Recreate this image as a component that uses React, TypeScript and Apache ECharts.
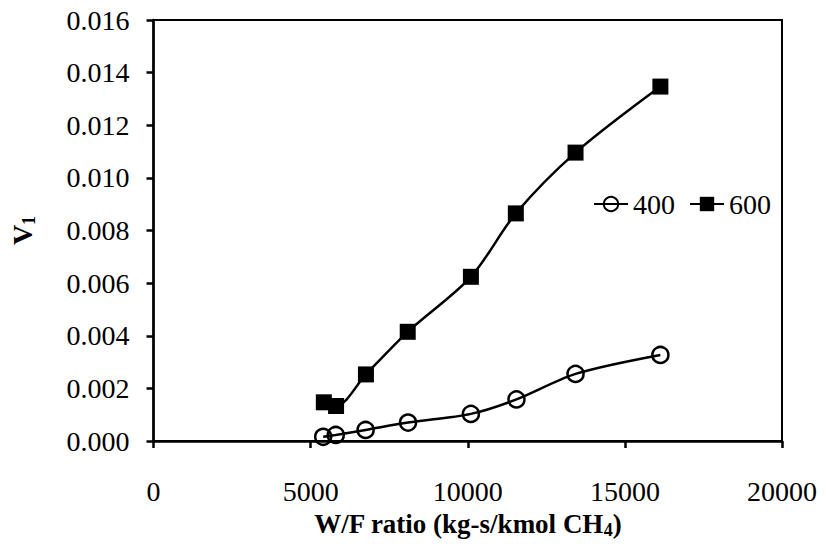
import React, { useEffect, useRef } from "react";
import * as echarts from "echarts";

const wfRatio = [5400, 5800, 6750, 8100, 10100, 11550, 13430, 16130];
const v400 = [0.00016, 0.00023, 0.00042, 0.0007, 0.00103, 0.00158, 0.00255, 0.00327];
const wfRatio600 = [5420, 5810, 6760, 8090, 10100, 11530, 13430, 16130];
const v600 = [0.00147, 0.00133, 0.00253, 0.00415, 0.00624, 0.00865, 0.01096, 0.01347];
const seriesNames = ["400", "600"];

const FONT = "Liberation Serif";

export default function App() {
  const ref = useRef<HTMLDivElement>(null);
  useEffect(() => {
    if (!ref.current) return;
    const chart = echarts.init(ref.current, null, { renderer: "svg" });
    chart.setOption({
      animation: false,
      backgroundColor: "#fff",
      grid: {
        left: 152,
        right: 44,
        top: 20,
        bottom: 103,
        show: true,
        borderColor: "#000",
        borderWidth: 2,
      },
      legend: {
        data: seriesNames,
        left: 588,
        top: 185,
        itemWidth: 34,
        itemHeight: 18,
        itemGap: 14,
        textStyle: { fontSize: 28, fontFamily: FONT, color: "#000" },
      },
      xAxis: {
        type: "value",
        min: 0,
        max: 20000,
        interval: 5000,
        axisLine: { show: true, lineStyle: { color: "#000", width: 2.5 } },
        axisTick: { show: true, inside: false, length: 7, lineStyle: { color: "#000", width: 2.5 } },
        splitLine: { show: false },
        axisLabel: {
          fontSize: 28,
          fontFamily: FONT,
          color: "#000",
          margin: 36,
          formatter: (v: number) => String(v),
        },
        name: "{b|W/F ratio (kg-s/kmol CH}{s|4}{b|)}",
        nameLocation: "middle",
        nameGap: 67,
        nameTextStyle: {
          rich: {
            b: { fontSize: 27, fontWeight: "bold", fontFamily: FONT, color: "#000" },
            s: { fontSize: 18, fontWeight: "bold", fontFamily: FONT, color: "#000", padding: [13, 0, 0, 0] },
          },
        },
      },
      yAxis: {
        type: "value",
        min: 0,
        max: 0.016,
        interval: 0.002,
        axisLine: { show: true, lineStyle: { color: "#000", width: 2.5 } },
        axisTick: { show: true, inside: false, length: 7, lineStyle: { color: "#000", width: 2.5 } },
        splitLine: { show: false },
        axisLabel: {
          fontSize: 28,
          fontFamily: FONT,
          color: "#000",
          margin: 24,
          formatter: (v: number) => v.toFixed(3),
        },
        name: "{b|V}{s|1}",
        nameLocation: "middle",
        nameGap: 116,
        nameTextStyle: {
          rich: {
            b: { fontSize: 28, fontWeight: "bold", fontFamily: FONT, color: "#000" },
            s: { fontSize: 18, fontWeight: "bold", fontFamily: FONT, color: "#000", padding: [13, 0, 0, 0] },
          },
        },
      },
      series: [
        {
          name: seriesNames[0],
          type: "line",
          smooth: 0.3,
          data: wfRatio.map((x, i) => [x, v400[i]]),
          symbol: "circle",
          symbolSize: 16,
          lineStyle: { color: "#000", width: 2.5 },
          itemStyle: { color: "rgba(0,0,0,0)", borderColor: "#000", borderWidth: 2.5 },
          z: 3,
        },
        {
          name: seriesNames[1],
          type: "line",
          smooth: 0.3,
          data: wfRatio600.map((x, i) => [x, v600[i]]),
          symbol: "rect",
          symbolSize: 16,
          lineStyle: { color: "#000", width: 2.5 },
          itemStyle: { color: "#000" },
          z: 2,
        },
      ],
    });
    return () => chart.dispose();
  }, []);
  return <div ref={ref} style={{ width: 826, height: 544, position: "absolute", left: 0, top: 0 }} />;
}
